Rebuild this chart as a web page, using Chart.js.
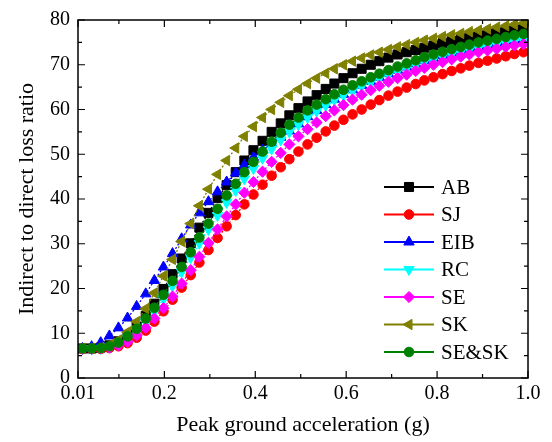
<!DOCTYPE html>
<html><head><meta charset="utf-8">
<script src="https://cdn.jsdelivr.net/npm/chart.js@4.4.1/dist/chart.umd.min.js"></script>
<style>html,body{margin:0;padding:0;background:#fff}#wrap{width:552px;height:442px}</style>
</head><body><div id="wrap"><canvas id="c" width="552" height="442"></canvas></div>
<script>
const pga = [0.020,0.040,0.060,0.079,0.099,0.119,0.139,0.159,0.178,0.198,
             0.218,0.238,0.258,0.277,0.297,0.317,0.337,0.357,0.376,0.396,
             0.416,0.436,0.456,0.475,0.495,0.515,0.535,0.555,0.574,0.594,
             0.614,0.634,0.654,0.673,0.693,0.713,0.733,0.753,0.772,0.792,
             0.812,0.832,0.852,0.871,0.891,0.911,0.931,0.951,0.970,0.990];
const AB   = [6.6,6.6,6.8,7.3,8.2,9.6,11.5,13.9,16.6,19.9, 23.2,26.7,30.1,33.6,36.9,40.2,43.1,46.0,48.6,50.9,
              53.0,55.0,56.9,58.7,60.3,61.8,63.2,64.6,65.8,67.0, 68.1,69.1,70.0,70.8,71.6,72.3,72.8,73.3,73.8,74.3,
              74.8,75.3,75.7,76.1,76.5,76.9,77.2,77.5,77.8,78.1];
const SJ   = [6.5,6.5,6.5,6.7,7.1,7.8,9.0,10.6,12.6,14.9, 17.5,20.2,23.0,25.8,28.6,31.3,33.9,36.4,38.8,41.0,
              43.2,45.2,47.1,48.9,50.6,52.2,53.7,55.1,56.4,57.7, 58.9,60.0,61.1,62.1,63.1,64.0,64.9,65.7,66.5,67.2,
              67.9,68.6,69.2,69.8,70.4,70.9,71.4,71.9,72.4,72.8];
const EIB  = [6.6,7.0,7.9,9.4,11.2,13.4,16.0,18.8,21.8,24.8, 27.8,31.1,34.2,36.9,39.4,41.6,43.8,45.8,47.6,49.3,
              50.9,52.4,53.8,55.2,56.8,58.4,59.8,61.1,62.3,63.4, 64.4,65.4,66.3,67.2,68.0,68.8,69.5,70.2,70.9,71.5,
              72.1,72.6,73.1,73.6,74.0,74.4,74.8,75.2,75.5,75.8];
const RC   = [6.5,6.5,6.6,6.9,7.6,8.8,10.4,12.5,14.8,17.6, 20.6,23.7,26.9,30.1,33.2,36.3,39.2,41.9,44.5,46.8,
              49.1,51.2,53.2,55.0,56.6,58.2,59.6,60.9,62.1,63.2, 64.2,65.2,66.1,67.0,67.8,68.6,69.3,70.0,70.7,71.3,
              71.9,72.4,72.9,73.4,73.8,74.2,74.6,75.0,75.3,75.6];
const SE   = [6.5,6.5,6.6,6.8,7.3,8.1,9.5,11.2,13.3,15.6, 18.2,21.1,24.1,27.1,30.2,33.2,36.1,38.8,41.4,43.8,
              46.1,48.3,50.3,52.2,54.0,55.6,57.1,58.5,59.8,61.0, 62.2,63.3,64.3,65.3,66.2,67.0,67.8,68.6,69.3,70.0,
              70.6,71.2,71.8,72.3,72.8,73.2,73.6,74.0,74.3,74.6];
const SK   = [6.6,6.6,6.8,7.4,8.5,10.3,12.6,15.5,19.0,22.8, 26.5,30.5,34.5,38.5,42.2,45.5,48.6,51.4,54.0,56.2,
              58.2,60.0,61.6,63.1,64.5,65.8,67.0,68.1,69.1,70.0, 70.8,71.5,72.2,72.8,73.4,74.0,74.5,75.0,75.5,75.9,
              76.3,76.7,77.0,77.4,77.7,78.0,78.4,78.7,79.0,79.3];
const SESK = [6.6,6.6,6.7,7.1,7.9,9.3,11.0,13.3,15.7,18.6, 21.7,24.8,28.1,31.4,34.5,37.8,40.8,43.4,46.0,48.3,
              50.6,52.8,54.8,56.6,58.2,59.8,61.1,62.3,63.4,64.4, 65.4,66.3,67.2,68.0,68.8,69.6,70.3,71.0,71.7,72.3,
              72.9,73.5,74.0,74.5,75.0,75.4,75.8,76.2,76.6,76.9];
const seriesNames = ['AB','SJ','EIB','RC','SE','SK','SE&SK'];
const seriesValues = [AB, SJ, EIB, RC, SE, SK, SESK];
const xTickValues = [0.01,0.2,0.4,0.6,0.8,1.0];
const xTickLabels = ['0.01','0.2','0.4','0.6','0.8','1.0'];
const xMinorTicks = [0.1,0.3,0.5,0.7,0.9];
const yTickValues = [0,10,20,30,40,50,60,70,80];
const yMinorTicks = [5,15,25,35,45,55,65,75];
const xTitle = 'Peak ground acceleration (g)';
const yTitle = 'Indirect to direct loss ratio';

const styles = [
  {color:'#000000', pointStyle:'rect',     radius:6.4, rotation:0},
  {color:'#FF0000', pointStyle:'circle',   radius:4.8, rotation:0},
  {color:'#0000FF', pointStyle:'triangle', radius:6.0, rotation:0},
  {color:'#00FFFF', pointStyle:'triangle', radius:6.0, rotation:180},
  {color:'#FF00FF', pointStyle:'rectRot',  radius:5.6, rotation:0},
  {color:'#808000', pointStyle:'triangle', radius:6.0, rotation:-90},
  {color:'#008000', pointStyle:'circle',   radius:4.8, rotation:0}
];
const FONT = "'Liberation Serif','Times New Roman',serif";

const datasets = seriesNames.map((name, i) => ({
  label: name,
  data: pga.map((x, k) => ({x: x, y: seriesValues[i][k]})),
  borderColor: styles[i].color,
  backgroundColor: styles[i].color,
  borderWidth: 1.3,
  borderDash: [2, 2],
  pointStyle: styles[i].pointStyle,
  pointRotation: styles[i].rotation,
  pointRadius: styles[i].radius,
  pointBorderWidth: 1,
  pointBorderColor: styles[i].color,
  pointBackgroundColor: styles[i].color,
  pointHoverRadius: styles[i].radius,
  tension: 0,
  order: seriesNames.length - i
}));

const frameTicks = {
  id: 'frameTicks',
  afterDatasetsDraw(chart) {
    const ctx = chart.ctx, a = chart.chartArea;
    const xs = chart.scales.x, ys = chart.scales.y;
    ctx.save();
    ctx.strokeStyle = '#000';
    ctx.lineWidth = 1.2;
    const tick = (px, len, vertical) => {
      ctx.beginPath();
      if (vertical) {
        ctx.moveTo(px, a.bottom); ctx.lineTo(px, a.bottom - len);
        ctx.moveTo(px, a.top); ctx.lineTo(px, a.top + len);
      } else {
        ctx.moveTo(a.left, px); ctx.lineTo(a.left + len, px);
        ctx.moveTo(a.right, px); ctx.lineTo(a.right - len, px);
      }
      ctx.stroke();
    };
    xTickValues.forEach(v => tick(xs.getPixelForValue(v), 7, true));
    xMinorTicks.forEach(v => tick(xs.getPixelForValue(v), 4, true));
    yTickValues.forEach(v => tick(ys.getPixelForValue(v), 7, false));
    yMinorTicks.forEach(v => tick(ys.getPixelForValue(v), 4, false));
    ctx.lineWidth = 1.5;
    ctx.strokeRect(a.left, a.top, a.right - a.left, a.bottom - a.top);
    ctx.restore();
  }
};

const insideLegend = {
  id: 'insideLegend',
  afterDraw(chart) {
    const ctx = chart.ctx;
    const x0 = 384, x1 = 434, xm = 409, tx = 441, y0 = 187, dy = 27.5;
    ctx.save();
    chart.data.datasets.forEach((ds, i) => {
      const y = y0 + i * dy;
      ctx.setLineDash([]);
      ctx.strokeStyle = ds.borderColor;
      ctx.lineWidth = 2;
      ctx.beginPath(); ctx.moveTo(x0, y); ctx.lineTo(x1, y); ctx.stroke();
      ctx.fillStyle = ds.pointBackgroundColor;
      ctx.strokeStyle = ds.pointBorderColor;
      ctx.lineWidth = 1;
      Chart.helpers.drawPoint(ctx, {pointStyle: ds.pointStyle, rotation: ds.pointRotation, radius: ds.pointRadius, borderWidth: 1}, xm, y);
      ctx.fillStyle = '#000';
      ctx.font = '21px ' + FONT;
      ctx.textBaseline = 'middle';
      ctx.textAlign = 'left';
      ctx.fillText(ds.label, tx, y + 1);
    });
    ctx.restore();
  }
};

new Chart(document.getElementById('c'), {
  type: 'line',
  data: { datasets: datasets },
  plugins: [frameTicks, insideLegend],
  options: {
    responsive: false,
    devicePixelRatio: 1,
    animation: false,
    layout: { padding: { top: 16, right: 24, left: 0, bottom: 0 } },
    plugins: { legend: { display: false }, tooltip: { enabled: false } },
    scales: {
      x: {
        type: 'linear', min: 0.01, max: 1.0,
        afterBuildTicks: s => { s.ticks = xTickValues.map(v => ({value: v})); },
        afterFit: s => { s.height = 64; },
        grid: { display: false, drawTicks: false },
        border: { display: false },
        ticks: { color: '#000', font: { family: FONT, size: 20 }, padding: 4, maxRotation: 0, autoSkip: false,
                 callback: (v, idx) => xTickLabels[idx] },
        title: { display: true, text: xTitle, color: '#000', font: { family: FONT, size: 22 }, padding: { top: 0, bottom: 4 } }
      },
      y: {
        type: 'linear', min: 0, max: 80,
        afterBuildTicks: s => { s.ticks = yTickValues.map(v => ({value: v})); },
        afterFit: s => { s.width = 78; },
        grid: { display: false, drawTicks: false },
        border: { display: false },
        ticks: { color: '#000', font: { family: FONT, size: 20 }, padding: 8, autoSkip: false,
                 callback: v => String(v) },
        title: { display: true, text: yTitle, color: '#000', font: { family: FONT, size: 22 }, padding: { top: 14, bottom: 0 } }
      }
    }
  }
});
</script></body></html>
